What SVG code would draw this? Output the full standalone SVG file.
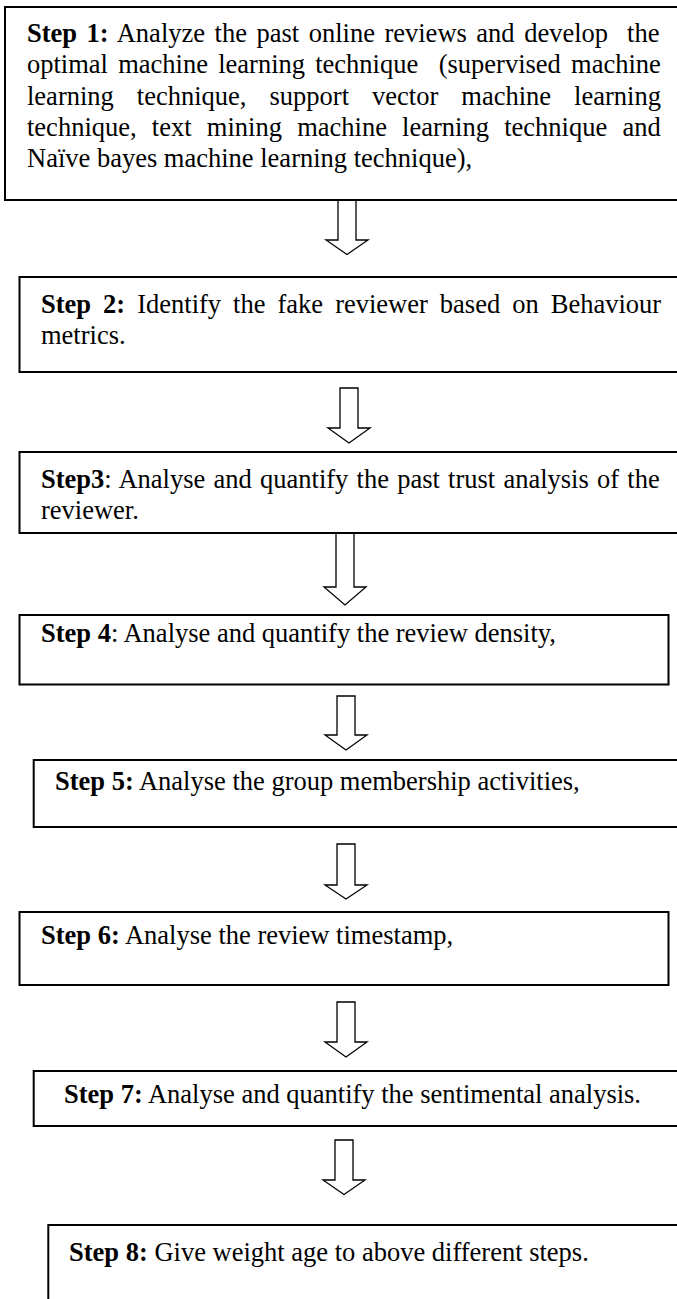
<svg xmlns="http://www.w3.org/2000/svg" width="677" height="1299" viewBox="0 0 677 1299">
<style>
.bg{fill:#fff}
.box{fill:#fff;stroke:#000;stroke-width:2}
.arr{fill:#fff;stroke:#000;stroke-width:1.3;stroke-linejoin:miter}
.t{font-family:"Liberation Serif","Times New Roman",serif;font-size:26.5px;fill:#000}
.b{font-weight:bold}
</style>
<rect class="bg" x="0" y="0" width="677" height="1299"/>
<g id="connectors">
<polygon class="arr" points="338,200 356,200 356,240 368,240 347,254.5 326,240 338,240"/>
<polygon class="arr" points="340,388 358,388 358,428 370,428 349,443 328,428 340,428"/>
<polygon class="arr" points="336,533 354,533 354,587 366,587 345,605 324,587 336,587"/>
<polygon class="arr" points="337,696 355,696 355,735 367,735 346,750 325,735 337,735"/>
<polygon class="arr" points="337,844 355,844 355,885 367,885 346,899 325,885 337,885"/>
<polygon class="arr" points="337,1002 355,1002 355,1042 367,1042 346,1057 325,1042 337,1042"/>
<polygon class="arr" points="335,1140 353,1140 353,1180 365,1180 344,1194.5 323,1180 335,1180"/>
</g>
<g id="step1">
<rect class="box" x="5" y="7" width="690" height="193"/>
<text class="t" x="27" y="42.3" xml:space="preserve" style="word-spacing:2.9px"><tspan class="b">Step 1:</tspan> Analyze the past online reviews and develop  the</text>
<text class="t" x="27" y="73.4" xml:space="preserve" style="word-spacing:3.6px">optimal machine learning technique  (supervised machine</text>
<text class="t" x="27" y="104.5" style="word-spacing:16.4px">learning technique, support vector machine learning</text>
<text class="t" x="27" y="135.6" style="word-spacing:8.6px">technique, text mining machine learning technique and</text>
<text class="t" x="27" y="166.7">Naïve bayes machine learning technique),</text>
</g>
<g id="step2">
<rect class="box" x="19.5" y="277" width="680" height="95"/>
<text class="t" x="41" y="313" style="word-spacing:5.4px"><tspan class="b">Step 2:</tspan> Identify the fake reviewer based on Behaviour</text>
<text class="t" x="41" y="344">metrics.</text>
</g>
<g id="step3">
<rect class="box" x="19.5" y="452" width="680" height="81"/>
<text class="t" x="41" y="487.5" style="word-spacing:1.6px"><tspan class="b">Step3</tspan>: Analyse and quantify the past trust analysis of the</text>
<text class="t" x="41" y="518.5">reviewer.</text>
</g>
<g id="step4">
<rect class="box" x="19.5" y="615" width="649" height="69.5"/>
<text class="t" x="41" y="642"><tspan class="b">Step 4</tspan>: Analyse and quantify the review density,</text>
</g>
<g id="step5">
<rect class="box" x="33.7" y="760" width="670" height="67"/>
<text class="t" x="55" y="790"><tspan class="b">Step 5:</tspan> Analyse the group membership activities,</text>
</g>
<g id="step6">
<rect class="box" x="19.5" y="912" width="649" height="73"/>
<text class="t" x="41" y="944"><tspan class="b">Step 6:</tspan> Analyse the review timestamp,</text>
</g>
<g id="step7">
<rect class="box" x="33.7" y="1071" width="670" height="55"/>
<text class="t" x="64" y="1103"><tspan class="b">Step 7:</tspan> Analyse and quantify the sentimental analysis.</text>
</g>
<g id="step8">
<rect class="box" x="48.3" y="1225" width="660" height="100"/>
<text class="t" x="69" y="1261"><tspan class="b">Step 8:</tspan> Give weight age to above different steps.</text>
</g>
</svg>
